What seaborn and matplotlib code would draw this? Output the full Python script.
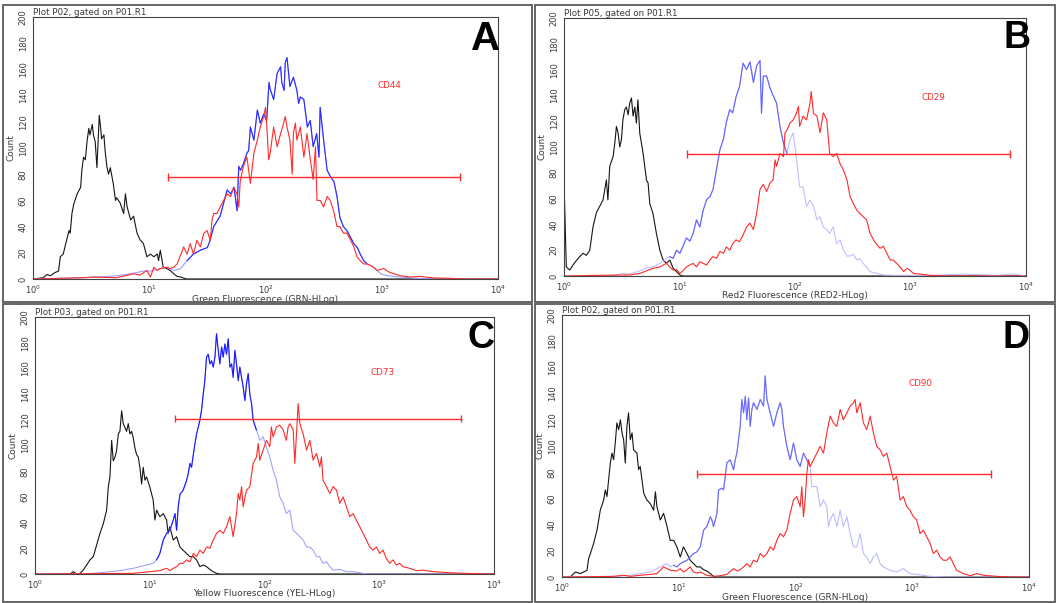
import numpy as np
import pandas as pd
import matplotlib
matplotlib.use("Agg")
import matplotlib.pyplot as plt
import seaborn as sns
from matplotlib.patches import Rectangle
from matplotlib.ticker import LogLocator, NullFormatter, MultipleLocator

# ---------------- DATA (x in log10 decades of fluorescence, y = count) ----------------
panel_keys = ["A", "B", "C", "D"]
plot_titles = ["Plot P02, gated on P01.R1", "Plot P05, gated on P01.R1",
               "Plot P03, gated on P01.R1", "Plot P02, gated on P01.R1"]
x_labels = ["Green Fluorescence (GRN-HLog)", "Red2 Fluorescence (RED2-HLog)",
            "Yellow Fluorescence (YEL-HLog)", "Green Fluorescence (GRN-HLog)"]
markers = ["CD44", "CD29", "CD73", "CD90"]
x_tick_values = [1, 10, 100, 1000, 10000]
y_tick_values = list(range(0, 201, 20))

# gate (start decade, end decade, count level)
gate_start = [1.158, 1.066, 1.219, 1.155]
gate_end = [3.676, 3.864, 3.710, 3.675]
gate_level = [78, 94.4, 121, 78.8]

A_black_x = [0.0, 0.09, 0.12, 0.15, 0.19, 0.22, 0.235, 0.26, 0.29, 0.31, 0.32, 0.335, 0.35, 0.38, 0.41, 0.42, 0.435, 0.45, 0.465, 0.48, 0.49, 0.51, 0.52, 0.535, 0.55, 0.57, 0.58, 0.59, 0.61, 0.62, 0.635, 0.65, 0.665, 0.69, 0.71, 0.72, 0.75, 0.78, 0.795, 0.81, 0.84, 0.865, 0.895, 0.92, 0.95, 0.98, 1.01, 1.04, 1.07, 1.08, 1.095, 1.12, 1.15, 1.18, 1.21, 1.24, 1.27, 1.32, 4.0]
A_black_y = [0, 1, 3.5, 2.5, 5, 6, 17, 19, 30, 37, 35, 50, 57, 65, 70, 83, 93, 91, 105, 115, 110, 118, 110, 105, 85, 125, 117, 107, 110, 98, 86, 80, 85, 73, 60, 62, 58, 50, 65, 55, 45, 48, 35, 30, 27, 17, 19, 17, 19, 14, 22, 9, 8, 6.5, 4, 2, 1.5, 0, 0]
A_blue_x = [0.0, 0.436, 0.58, 0.72, 0.81, 0.866, 0.95, 1.01, 1.095, 1.15, 1.21, 1.27, 1.325, 1.38, 1.44, 1.50, 1.525, 1.554, 1.61, 1.67, 1.70, 1.73, 1.755, 1.77, 1.785, 1.81, 1.84, 1.855, 1.87, 1.90, 1.93, 1.955, 1.985, 2.01, 2.03, 2.04, 2.07, 2.10, 2.13, 2.14, 2.16, 2.17, 2.185, 2.21, 2.24, 2.27, 2.285, 2.30, 2.33, 2.36, 2.385, 2.41, 2.44, 2.46, 2.47, 2.50, 2.53, 2.56, 2.59, 2.615, 2.64, 2.67, 2.70, 2.73, 2.76, 2.79, 2.815, 2.845, 2.87, 2.93, 2.99, 3.045, 3.16, 3.30, 3.45, 4.0]
A_blue_y = [0, 1, 1.5, 2.5, 3.5, 4.5, 6, 6, 8, 9, 6.5, 8, 14, 19, 22, 24, 30, 40, 48, 68, 65, 70, 52, 86, 83, 88, 96, 98, 116, 106, 129, 119, 126, 121, 150, 145, 137, 157, 162, 150, 144, 165, 169, 147, 154, 144, 134, 139, 137, 116, 121, 101, 111, 93, 131, 106, 83, 78, 74, 63, 47, 40, 37, 32, 27, 24, 19, 14, 12, 9, 4, 2.5, 1.5, 0.5, 0, 0]
A_red_x = [0.0, 0.436, 0.52, 0.72, 0.866, 0.92, 0.98, 1.01, 1.04, 1.067, 1.095, 1.15, 1.18, 1.21, 1.24, 1.296, 1.325, 1.353, 1.38, 1.41, 1.44, 1.468, 1.497, 1.525, 1.54, 1.554, 1.583, 1.61, 1.64, 1.67, 1.70, 1.726, 1.755, 1.77, 1.783, 1.81, 1.84, 1.87, 1.90, 1.93, 1.955, 1.984, 2.00, 2.013, 2.027, 2.04, 2.07, 2.10, 2.13, 2.156, 2.17, 2.185, 2.21, 2.23, 2.24, 2.257, 2.27, 2.30, 2.33, 2.357, 2.386, 2.41, 2.43, 2.443, 2.47, 2.50, 2.53, 2.557, 2.586, 2.615, 2.64, 2.67, 2.70, 2.73, 2.76, 2.787, 2.815, 2.845, 2.873, 2.93, 2.96, 3.016, 3.07, 3.16, 3.245, 3.33, 3.446, 3.59, 3.73, 4.0]
A_red_y = [0, 1, 1.5, 1, 4, 3, 6.5, 1.5, 9, 6.5, 8, 9, 8, 9, 11.5, 24.5, 19, 27, 19, 29.5, 24.5, 34.7, 37, 29.5, 45, 50, 50, 55, 60, 65, 63, 70, 65, 55, 75, 86, 93, 73, 96, 106, 116, 124, 131, 114, 91, 96, 116, 101, 111, 119, 124, 116, 106, 80, 111, 119, 106, 116, 93, 111, 91, 76, 101, 60, 60, 55, 63, 60, 52, 40, 40, 35, 35, 30, 24.5, 17, 14, 11.5, 11.5, 9, 6.5, 8, 5, 2.5, 1.5, 2, 0.8, 0.5, 0, 0]

B_black_x = [0.0, 0.003, 0.02, 0.05, 0.078, 0.107, 0.136, 0.165, 0.194, 0.223, 0.251, 0.28, 0.309, 0.338, 0.367, 0.38, 0.396, 0.425, 0.44, 0.454, 0.468, 0.483, 0.497, 0.51, 0.526, 0.54, 0.555, 0.569, 0.584, 0.598, 0.613, 0.627, 0.64, 0.656, 0.685, 0.714, 0.728, 0.743, 0.77, 0.80, 0.83, 0.858, 0.887, 0.916, 0.945, 0.974, 1.003, 1.03, 4.0]
B_black_y = [0, 64, 7, 4.6, 8.5, 12, 15, 17.6, 16, 20, 38, 49, 54, 59, 74.5, 59, 85, 92.6, 103, 116, 111, 100, 105.6, 121, 129, 131, 125, 134, 138, 124, 131, 118.5, 136.6, 110.7, 95, 74.5, 72, 56, 48.6, 33, 20, 12.4, 9.8, 12.4, 6, 3.4, 0.8, 0, 0]
B_blue_x = [0.0, 0.28, 0.425, 0.51, 0.569, 0.656, 0.714, 0.77, 0.83, 0.858, 0.887, 0.916, 0.945, 0.974, 1.003, 1.03, 1.06, 1.09, 1.118, 1.147, 1.176, 1.205, 1.234, 1.263, 1.29, 1.32, 1.35, 1.38, 1.405, 1.435, 1.46, 1.49, 1.52, 1.55, 1.58, 1.61, 1.64, 1.668, 1.697, 1.71, 1.725, 1.754, 1.783, 1.81, 1.84, 1.87, 1.90, 1.93, 1.956, 1.985, 2.014, 2.04, 2.07, 2.10, 2.13, 2.16, 2.19, 2.217, 2.245, 2.275, 2.30, 2.33, 2.36, 2.39, 2.42, 2.45, 2.477, 2.506, 2.535, 2.56, 2.59, 2.62, 2.65, 2.71, 2.766, 2.88, 3.17, 3.46, 3.75, 3.89, 4.0]
B_blue_y = [0, 0, 0.5, 2, 1.5, 4, 6, 7, 9.8, 11, 13.7, 15, 13.7, 20, 17.6, 23, 29.5, 27, 33, 43.5, 38, 51, 59, 61.5, 67, 82.5, 98, 106, 119, 129, 126.5, 139, 147, 165, 160, 166, 150, 163, 167, 126, 155, 155, 146, 140, 134, 116, 103, 95, 105.6, 111, 90, 69, 69, 54, 59, 54, 43.5, 46, 38, 36, 33, 38, 25, 28, 20, 15.5, 15.5, 16.8, 12.4, 13.7, 9.8, 7, 3.4, 2, 0.8, 0.5, 0.5, 1.5, 0.5, 1.5, 0]
B_red_x = [0.0, 0.28, 0.57, 0.656, 0.714, 0.77, 0.83, 0.858, 0.887, 0.916, 0.945, 0.974, 1.003, 1.03, 1.06, 1.09, 1.118, 1.147, 1.176, 1.205, 1.234, 1.263, 1.29, 1.32, 1.35, 1.38, 1.405, 1.435, 1.46, 1.49, 1.52, 1.55, 1.58, 1.61, 1.64, 1.668, 1.697, 1.725, 1.754, 1.783, 1.81, 1.827, 1.84, 1.87, 1.90, 1.913, 1.93, 1.956, 1.985, 2.014, 2.03, 2.04, 2.07, 2.10, 2.13, 2.14, 2.16, 2.19, 2.217, 2.245, 2.275, 2.30, 2.33, 2.36, 2.39, 2.42, 2.45, 2.477, 2.506, 2.535, 2.56, 2.59, 2.62, 2.65, 2.68, 2.71, 2.737, 2.766, 2.795, 2.824, 2.85, 2.88, 2.91, 2.94, 2.97, 3.0, 3.026, 3.08, 3.17, 3.31, 4.0]
B_red_y = [0, 0.5, 0.8, 2, 4, 6, 7, 8.5, 9.8, 7, 4.6, 5, 2, 4, 7, 8.5, 9.8, 7, 11, 9.8, 8.5, 12.4, 15, 13.7, 19, 17.6, 22.6, 20, 25, 28, 26.6, 31.7, 38, 41, 36, 48.6, 67, 71, 65.5, 72, 74.5, 90, 85, 95, 92.6, 111, 113, 118.5, 121, 126.5, 131.5, 116, 124, 121, 134, 143, 126, 124, 111, 126.5, 121, 95, 92.6, 95, 87, 82, 74.5, 61.5, 56, 51, 48.6, 46, 43.5, 33, 28, 24, 21.5, 23, 17.6, 12.4, 12.4, 9.8, 7, 3.4, 6, 4, 2, 1.5, 0.5, 0, 0]

C_black_x = [0.0, 0.305, 0.334, 0.363, 0.392, 0.42, 0.45, 0.479, 0.508, 0.537, 0.566, 0.595, 0.624, 0.639, 0.653, 0.668, 0.682, 0.697, 0.711, 0.726, 0.74, 0.755, 0.769, 0.784, 0.798, 0.813, 0.827, 0.842, 0.856, 0.871, 0.885, 0.9, 0.914, 0.929, 0.943, 0.958, 0.972, 1.0, 1.03, 1.045, 1.06, 1.088, 1.118, 1.147, 1.16, 1.175, 1.205, 1.234, 1.263, 1.29, 1.32, 1.35, 1.38, 1.408, 1.437, 1.466, 1.495, 1.524, 1.553, 1.582, 1.61, 4.0]
C_black_y = [0, 0, 1.8, 0, 0.5, 3, 7, 11, 13.5, 22.5, 31.6, 39, 49.7, 67.9, 75.6, 104, 88, 91, 96, 109, 111, 127, 117, 114, 111, 117, 109, 111, 106, 98, 93, 91, 83, 70, 83, 73, 75.6, 67.9, 57.5, 42, 49.7, 44.6, 47, 42, 31.6, 36.8, 26.4, 29, 21, 18.6, 16, 13.5, 13.5, 11, 5.7, 7, 5.7, 3.6, 1.8, 0.5, 0, 0]
C_blue_x = [0.0, 0.42, 0.508, 0.566, 0.653, 0.74, 0.798, 0.856, 0.914, 0.972, 1.03, 1.06, 1.088, 1.118, 1.147, 1.175, 1.205, 1.22, 1.234, 1.248, 1.263, 1.29, 1.32, 1.335, 1.35, 1.364, 1.38, 1.393, 1.408, 1.422, 1.437, 1.451, 1.466, 1.48, 1.495, 1.51, 1.524, 1.539, 1.553, 1.568, 1.582, 1.597, 1.611, 1.626, 1.64, 1.655, 1.669, 1.684, 1.698, 1.713, 1.727, 1.742, 1.756, 1.771, 1.785, 1.8, 1.814, 1.829, 1.843, 1.858, 1.872, 1.887, 1.901, 1.93, 1.959, 1.988, 2.017, 2.046, 2.075, 2.104, 2.133, 2.163, 2.19, 2.22, 2.25, 2.28, 2.308, 2.337, 2.366, 2.395, 2.424, 2.453, 2.48, 2.51, 2.54, 2.57, 2.598, 2.656, 2.714, 2.772, 2.83, 2.89, 4.0]
C_blue_y = [0, 0, 0.5, 1, 1.8, 2.6, 3.6, 4.4, 5.7, 7, 8.3, 11, 16, 26.4, 31.6, 34, 42, 47, 34, 52, 62, 65, 72.5, 78, 86, 83, 93, 101, 109, 114, 119.7, 127.5, 140, 150.5, 168.8, 171, 163.5, 166, 161, 168.8, 187, 174, 163.5, 176.7, 168.8, 179, 171, 183, 161, 163.5, 153, 174, 163.5, 150.5, 161, 153, 145.6, 135, 148, 156, 140, 132.6, 119.7, 112, 104, 106.7, 99, 91, 80.8, 73, 60, 55, 47, 49.7, 34, 31.6, 29, 26.4, 21, 21, 18.6, 13.5, 13.5, 8.3, 9.5, 5.7, 3, 3.6, 1.8, 1.8, 1, 0, 0]
C_red_x = [0.0, 0.856, 1.0, 1.088, 1.147, 1.175, 1.205, 1.234, 1.263, 1.29, 1.32, 1.35, 1.38, 1.408, 1.437, 1.466, 1.495, 1.524, 1.553, 1.582, 1.611, 1.64, 1.669, 1.698, 1.727, 1.756, 1.771, 1.785, 1.8, 1.814, 1.843, 1.872, 1.901, 1.93, 1.945, 1.959, 1.988, 2.017, 2.046, 2.06, 2.075, 2.104, 2.133, 2.163, 2.19, 2.206, 2.22, 2.25, 2.264, 2.279, 2.293, 2.308, 2.337, 2.366, 2.395, 2.424, 2.453, 2.482, 2.496, 2.51, 2.54, 2.57, 2.598, 2.627, 2.656, 2.685, 2.714, 2.743, 2.772, 2.8, 2.83, 2.859, 2.888, 2.917, 2.946, 2.975, 3.004, 3.033, 3.062, 3.091, 3.12, 3.149, 3.178, 3.207, 3.266, 3.324, 3.382, 3.469, 3.614, 3.759, 4.0]
C_red_y = [0, 0.5, 1.8, 2.6, 4.4, 2.6, 4.4, 5.7, 8.3, 8.3, 11, 9.5, 16, 13.5, 18.6, 16, 21, 20, 26.4, 31.6, 34, 31.6, 36.8, 44.6, 29, 47, 62.7, 57.5, 67.9, 52.3, 65.3, 67.9, 86, 91, 101.5, 88.6, 96.4, 104, 99, 114.5, 106.7, 114.5, 115.8, 112, 104, 114.5, 117, 112, 86, 109, 132.6, 117, 109, 96.4, 104, 88.6, 93.8, 83.4, 91, 73, 68, 62.7, 68, 65.3, 55, 60, 52.3, 44.6, 47, 42, 36.8, 31.6, 26.4, 21, 18.6, 21, 16, 18.6, 12, 8.3, 11, 7, 8.3, 5.7, 4.4, 2.6, 3, 1.8, 1, 0.5, 0]

D_black_x = [0.0, 0.071, 0.114, 0.157, 0.185, 0.214, 0.228, 0.243, 0.271, 0.285, 0.30, 0.328, 0.357, 0.371, 0.385, 0.414, 0.428, 0.442, 0.456, 0.47, 0.485, 0.50, 0.514, 0.528, 0.542, 0.556, 0.57, 0.585, 0.60, 0.613, 0.642, 0.656, 0.67, 0.70, 0.713, 0.727, 0.756, 0.785, 0.8, 0.813, 0.842, 0.87, 0.9, 0.927, 0.956, 0.984, 1.013, 1.04, 1.07, 1.098, 1.127, 1.155, 1.184, 1.213, 1.24, 1.27, 1.298, 1.327, 4.0]
D_black_y = [0, 0, 3.8, 2.6, 3.8, 5.1, 14, 17.9, 25.6, 30.7, 35.8, 51, 58.8, 66.5, 61.4, 87, 94.6, 89.5, 102, 117.6, 112.5, 120, 110, 104.8, 87, 115, 125.3, 104.8, 110, 97, 94.6, 82, 84.4, 63.9, 61.4, 58.8, 56, 51, 65, 53.7, 43.5, 48.6, 38.4, 28, 28, 23, 15.3, 23, 17.9, 12.8, 10.2, 7.7, 7.7, 5.6, 4.6, 2.6, 0.5, 0, 0]
D_blue_x = [0.0, 0.30, 0.442, 0.585, 0.67, 0.756, 0.813, 0.87, 0.9, 0.927, 0.956, 0.984, 1.013, 1.04, 1.07, 1.098, 1.127, 1.155, 1.184, 1.213, 1.24, 1.27, 1.284, 1.298, 1.327, 1.341, 1.37, 1.384, 1.412, 1.44, 1.47, 1.484, 1.498, 1.512, 1.526, 1.54, 1.555, 1.57, 1.583, 1.598, 1.612, 1.626, 1.64, 1.67, 1.698, 1.726, 1.74, 1.755, 1.783, 1.812, 1.84, 1.869, 1.883, 1.897, 1.926, 1.954, 1.983, 2.011, 2.04, 2.068, 2.097, 2.125, 2.14, 2.154, 2.183, 2.211, 2.24, 2.268, 2.282, 2.297, 2.325, 2.354, 2.382, 2.41, 2.44, 2.468, 2.497, 2.525, 2.554, 2.582, 2.61, 2.64, 2.667, 2.696, 2.725, 2.753, 2.81, 2.867, 2.924, 2.98, 3.04, 3.153, 3.295, 4.0]
D_blue_y = [0, 0, 0.5, 1.3, 2.6, 3.8, 6.4, 9, 10.2, 7.7, 9, 7.7, 10.2, 11.5, 12.8, 15.3, 17.9, 19.2, 23, 35.8, 38.4, 46, 43.5, 38.4, 48.6, 66.5, 67.8, 66.5, 87, 89.5, 81.8, 89.5, 94.6, 104.8, 115, 135.5, 125.3, 138, 120, 136.8, 115, 127.9, 133, 127.9, 135.5, 130.4, 153.5, 135.5, 125.3, 115, 125.3, 133, 127.9, 115, 99.7, 89.5, 102.3, 89.5, 84.4, 94.6, 89.5, 84.4, 69, 69, 69, 53.7, 58.8, 53.7, 38.4, 43.5, 48.6, 38.4, 51, 38.4, 46, 33.2, 23, 23, 33.2, 17.9, 15.3, 10.2, 15.3, 17.9, 10.2, 7.7, 5.1, 3.8, 6.4, 2.6, 2, 0.5, 0, 0]
D_red_x = [0.0, 0.442, 0.528, 0.585, 0.67, 0.756, 0.813, 0.87, 0.9, 0.927, 0.984, 1.013, 1.04, 1.07, 1.098, 1.127, 1.155, 1.184, 1.213, 1.24, 1.298, 1.355, 1.412, 1.47, 1.498, 1.526, 1.555, 1.583, 1.612, 1.64, 1.67, 1.698, 1.726, 1.755, 1.783, 1.812, 1.84, 1.869, 1.897, 1.926, 1.954, 1.983, 2.011, 2.04, 2.054, 2.068, 2.083, 2.097, 2.111, 2.125, 2.154, 2.183, 2.211, 2.24, 2.268, 2.297, 2.325, 2.354, 2.382, 2.41, 2.44, 2.468, 2.497, 2.51, 2.525, 2.554, 2.582, 2.61, 2.64, 2.667, 2.696, 2.725, 2.753, 2.782, 2.81, 2.84, 2.867, 2.896, 2.924, 2.953, 2.98, 3.01, 3.038, 3.067, 3.095, 3.124, 3.153, 3.18, 3.21, 3.238, 3.267, 3.295, 3.324, 3.352, 3.38, 3.41, 3.438, 3.495, 3.552, 3.61, 3.723, 3.866, 4.0]
D_red_y = [0, 0.5, 1.3, 0.5, 1.3, 2, 2.6, 7.7, 6.4, 5.1, 4.6, 6.4, 3.8, 5.6, 7.7, 3.8, 3, 3.8, 2.6, 1.3, 0.5, 1, 2, 6.4, 4.6, 5.6, 7.7, 10.2, 7.7, 12.8, 11.5, 17.9, 15.3, 17.9, 23, 20.5, 28, 33.2, 30.7, 35.8, 48.6, 58.8, 61.4, 53.7, 69, 46, 58.8, 79.3, 89.5, 84.4, 89.5, 94.6, 99.7, 94.6, 110, 122.8, 117.6, 115, 127.9, 120, 125.3, 130.4, 133, 135.5, 125.3, 133, 117.6, 112.5, 122.8, 110, 99.7, 97, 92, 94.6, 84.4, 74, 76.7, 58.8, 61.4, 53.7, 51, 46, 43.5, 33.2, 35.8, 30.7, 25.6, 17.9, 20.5, 15.3, 12.8, 12.8, 15.3, 10.2, 5.1, 3.8, 2.6, 1, 2.6, 1.3, 0.5, 0, 0]

curves = {
    "A": [(A_black_x, A_black_y), (A_blue_x, A_blue_y), (A_red_x, A_red_y)],
    "B": [(B_black_x, B_black_y), (B_blue_x, B_blue_y), (B_red_x, B_red_y)],
    "C": [(C_black_x, C_black_y), (C_blue_x, C_blue_y), (C_red_x, C_red_y)],
    "D": [(D_black_x, D_black_y), (D_blue_x, D_blue_y), (D_red_x, D_red_y)],
}

# ---------------- LAYOUT / STYLE ----------------
W, H = 1056, 603
axes_px = {"A": (33, 17, 498, 279), "B": (564, 18, 1026, 276),
           "C": (35, 317, 494, 574), "D": (562, 315, 1029, 577)}
frames_px = {"A": (2.5, 5, 531.5, 302), "B": (534.5, 5, 1054.5, 302),
             "C": (2.5, 303.5, 531.5, 601.5), "D": (534.5, 303.5, 1054.5, 601.5)}
letter_pos = {"A": (1.004, 0.874, 29), "B": (1.009, 0.884, 27),
              "C": (1.002, 0.879, 27), "D": (1.002, 0.874, 27)}
marker_pos = {"A": (3.07, 148), "B": (3.2, 138), "C": (3.025, 156.5), "D": (3.067, 148)}
blue_style = {"A": ("#2b2bff", "#9d9dff", 1.3, 2.9),
              "B": ("#6464ff", "#c0c0ff", 0.9, 1.95),
              "C": ("#1a1aff", "#a3a3ff", 1.05, 1.93),
              "D": ("#6a6aff", "#bcbcff", 0.95, 2.13)}
RED = "#ff2a2a"
BLACK = "#151515"
TXT = "#3a3a3a"
LW = 0.8

sns.set_style("white")
plt.rcParams["font.family"] = ["DejaVu Sans"]
plt.rcParams["mathtext.default"] = "regular"

fig = plt.figure(figsize=(W / 100, H / 100), dpi=100)
fig.patch.set_facecolor("white")

for k, (x0, y0, x1, y1) in frames_px.items():
    fig.add_artist(Rectangle((x0 / W, 1 - y1 / H), (x1 - x0) / W, (y1 - y0) / H,
                             transform=fig.transFigure, fill=False,
                             edgecolor="#5a5a5a", linewidth=1.3))


def line(ax, xs, ys, color):
    df = pd.DataFrame({"x": np.power(10.0, np.asarray(xs, float)), "y": ys})
    sns.lineplot(data=df, x="x", y="y", ax=ax, color=color, linewidth=LW,
                 estimator=None, sort=False, legend=False)


for i, k in enumerate(panel_keys):
    l, t, r, b = axes_px[k]
    ax_h = b - t
    ax = fig.add_axes([l / W, 1 - b / H, (r - l) / W, ax_h / H])
    (bx, by), (ux, uy), (rx, ry) = curves[k]
    line(ax, bx, by, BLACK)
    dark, light, d0, d1 = blue_style[k]
    line(ax, ux, uy, light)
    sel = [(x, y) for x, y in zip(ux, uy) if d0 <= x <= d1]
    line(ax, [p[0] for p in sel], [p[1] for p in sel], dark)
    line(ax, rx, ry, RED)

    # gate marker
    g0, g1, gl = 10 ** gate_start[i], 10 ** gate_end[i], gate_level[i]
    ax.plot([g0, g1], [gl, gl], color=RED, lw=1.0)
    ax.vlines([g0, g1], gl - 3, gl + 3, color=RED, lw=1.0)
    mx, my = marker_pos[k]
    ax.text(10 ** mx, my, markers[i], color=RED, fontsize=6.3, ha="center", va="center")

    ax.set_xscale("log")
    ax.set_xlim(x_tick_values[0], x_tick_values[-1])
    ax.set_ylim(0, 200)
    ax.set_xticks(x_tick_values)
    ax.xaxis.set_minor_locator(LogLocator(base=10, subs=range(2, 10), numticks=20))
    ax.xaxis.set_minor_formatter(NullFormatter())
    ax.set_yticks(y_tick_values)
    ax.yaxis.set_minor_locator(MultipleLocator(10))
    ax.tick_params(axis="both", which="major", length=3, width=0.6, colors="#333333",
                   labelsize=6.0, labelcolor=TXT, direction="out", pad=0.8)
    ax.tick_params(axis="both", which="minor", length=1.8, width=0.6, colors="#333333",
                   direction="out")
    ax.tick_params(axis="x", which="major", pad=0.3)
    ax.tick_params(axis="y", labelrotation=90)
    for lab in ax.get_yticklabels():
        lab.set_va("center")
    for sp in ax.spines.values():
        sp.set_visible(True)
        sp.set_color("#444444")
        sp.set_linewidth(0.8)
    ax.set_xlabel(x_labels[i], fontsize=6.5, color=TXT)
    ax.xaxis.set_label_coords(0.5, -15.5 / ax_h)
    ax.set_ylabel("Count", fontsize=6.5, color=TXT, labelpad=2)
    ax.set_title(plot_titles[i], loc="left", fontsize=6.3, color=TXT, pad=1.5)
    lx, ly, fs = letter_pos[k]
    ax.text(lx, ly, k, transform=ax.transAxes, ha="right", va="baseline",
            fontsize=fs, fontweight="bold", family=["Liberation Sans", "DejaVu Sans"],
            color="black", clip_on=False, zorder=10)

fig.savefig("out.png", dpi=100, facecolor="white")
